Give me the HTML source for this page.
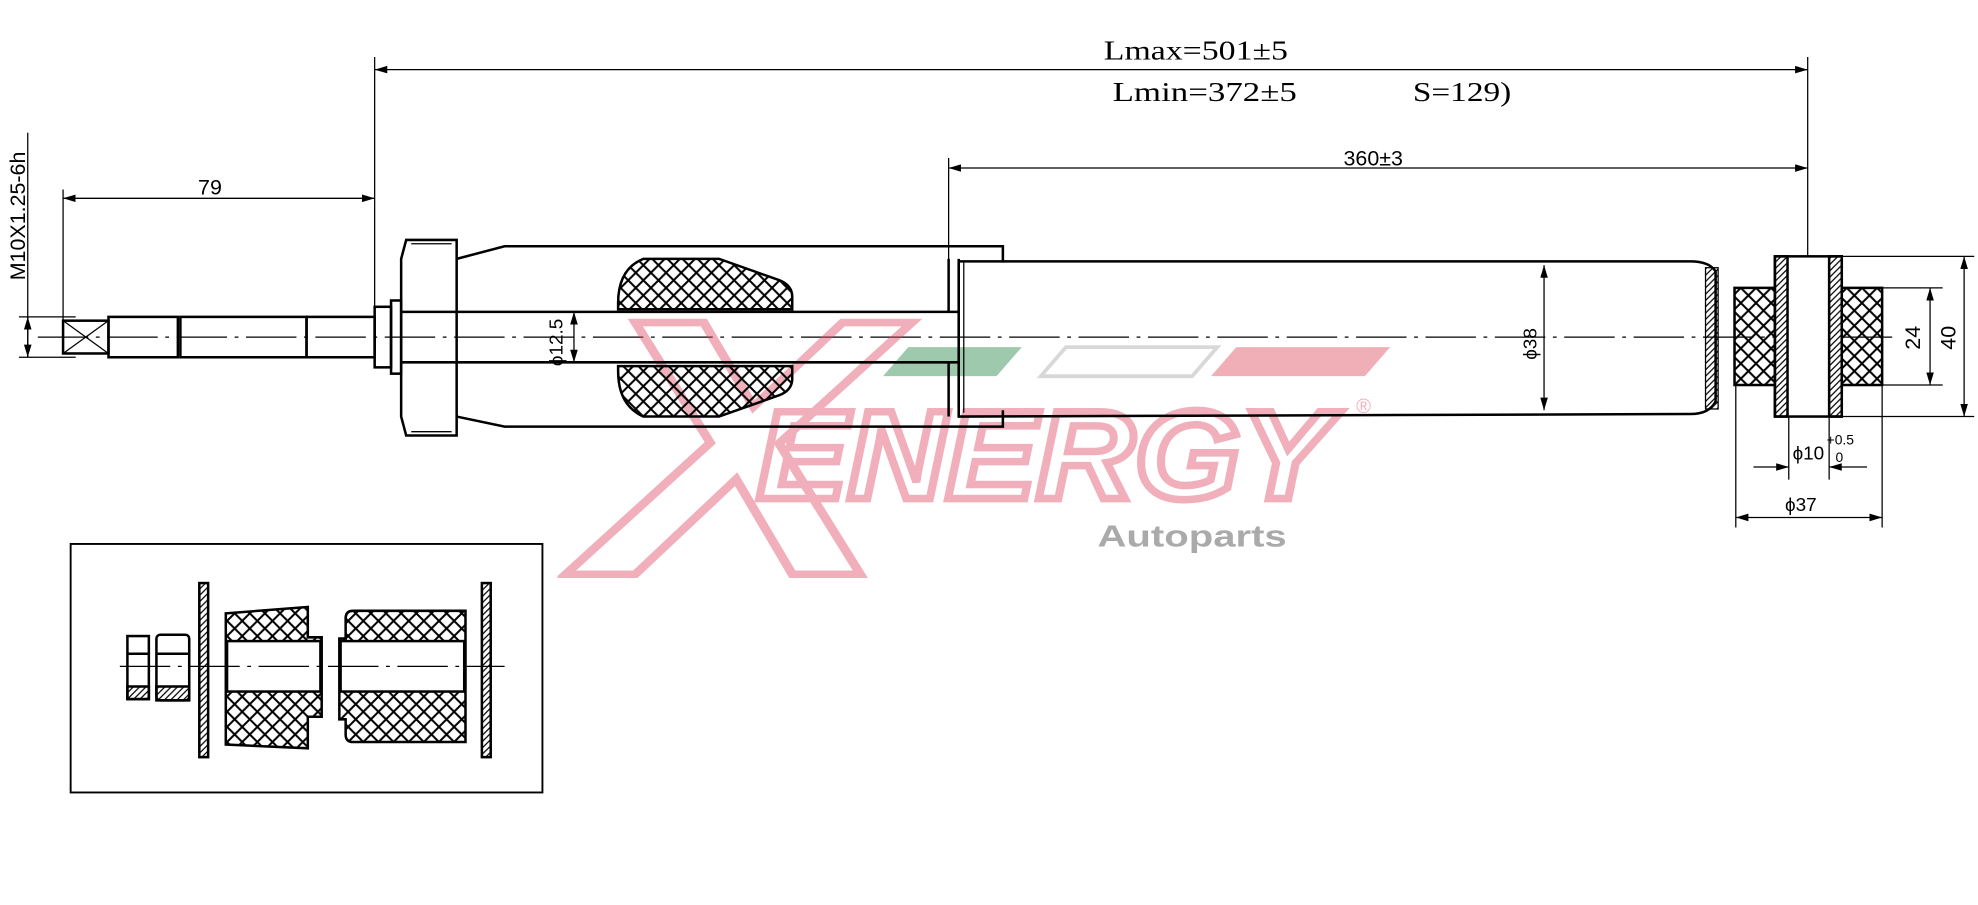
<!DOCTYPE html>
<html><head><meta charset="utf-8"><style>
html,body{margin:0;padding:0;background:#fff;}
svg{display:block;}
text{font-family:"Liberation Sans",sans-serif;}
text.s{font-family:"Liberation Serif",serif;}
</style></head><body>
<svg width="1978" height="905" viewBox="0 0 1568 717" xmlns="http://www.w3.org/2000/svg">
<defs>
<pattern id="xh" width="12" height="12" patternUnits="userSpaceOnUse">
<path d="M0 0L12 12M12 0L0 12" stroke="#000" stroke-width="1.6"/>
</pattern>
<pattern id="hh" width="5" height="5" patternUnits="userSpaceOnUse">
<path d="M0 5L5 0M-1 1L1 -1M4 6L6 4" stroke="#000" stroke-width="1"/>
</pattern>
<marker id="a" viewBox="0 0 10 6" refX="10" refY="3" markerWidth="10" markerHeight="6" orient="auto-start-reverse" markerUnits="userSpaceOnUse">
<path d="M0 0L10 3L0 6z" fill="#000"/>
</marker>
</defs>
<g fill="none" stroke="#000" stroke-width="1">
<line x1="297" y1="45" x2="297" y2="262"/>
<line x1="1433" y1="45" x2="1433" y2="205"/>
<line x1="297" y1="55" x2="1433" y2="55" marker-start="url(#a)" marker-end="url(#a)"/>
<line x1="752" y1="125" x2="752" y2="208"/>
<line x1="752" y1="133" x2="1433" y2="133" marker-start="url(#a)" marker-end="url(#a)"/>
<line x1="50" y1="150" x2="50" y2="256"/>
<line x1="50" y1="157" x2="297" y2="157" marker-start="url(#a)" marker-end="url(#a)"/>
<line x1="22" y1="105" x2="22" y2="283"/>
<line x1="15" y1="251" x2="60" y2="251"/>
<line x1="15" y1="283" x2="60" y2="283"/>
<line x1="22" y1="251" x2="22" y2="283" marker-start="url(#a)" marker-end="url(#a)"/>
<line x1="30" y1="267" x2="1500" y2="267" stroke-dasharray="40 6 3 6"/>
</g>
<g opacity="0.45">
<path d="M700 298L720 275L810 275L790 298Z" fill="#2a8a4a"/>
<path d="M825 298L845 275L965 275L945 298Z" fill="none" stroke="#aaa" stroke-width="3"/>
<path d="M960 298L980 275L1102 275L1082 298Z" fill="#e05060"/>
<text x="465" y="455" font-size="290" font-weight="bold" font-style="italic" style="fill:none;stroke:#e0506a;stroke-width:6" textLength="240" lengthAdjust="spacingAndGlyphs">X</text>
<text x="600" y="395" font-size="100" font-weight="bold" font-style="italic" style="fill:none;stroke:#e0506a;stroke-width:6" textLength="455" lengthAdjust="spacingAndGlyphs">ENERGY</text>
<text x="1075" y="327" font-size="16" style="fill:#e0506a">®</text>
</g>
<text x="870" y="433" font-size="24" font-weight="bold" style="fill:#aaa" textLength="150" lengthAdjust="spacingAndGlyphs">Autoparts</text>
<g fill="none" stroke="#000" stroke-width="2">
<rect x="50" y="254" width="36" height="26"/>
<path d="M50 254L86 280M86 254L50 280" stroke-width="1"/>
<rect x="86" y="251" width="55" height="32"/>
<rect x="143" y="251" width="100" height="32"/>
<rect x="243" y="251" width="54" height="32"/>
<rect x="297" y="243" width="13" height="48"/>
<rect x="310" y="238" width="8" height="58"/>
<path d="M322 190L362 190L362 345L322 345L318 330L318 205Z"/>
<path d="M326 193L358 193M326 342L358 342" stroke-width="1"/>
<path d="M362 205L400 195L795 195L795 208M362 330L400 338L795 338L795 325"/>
<path d="M318 247L760 247M318 287L760 287"/>
<path d="M490 240Q490 213 510 205L570 205L618 222Q628 226 628 235L628 245L490 245Z" fill="url(#xh)"/>
<path d="M490 294Q490 321 510 330L570 330L618 313Q628 309 628 300L628 290L490 290Z" fill="url(#xh)"/>
<path d="M752 205L752 247M752 287L752 330M760 208L760 330"/>
<path d="M760 205L760 330L1340 328Q1355 328 1360 318L1360 215Q1355 207 1340 207L760 207"/>
<path d="M764 208L764 327" stroke-width="1"/>
<rect x="1352" y="212" width="10" height="112" fill="url(#hh)" stroke-width="1"/>
<rect x="1375" y="228" width="117" height="77" fill="url(#xh)"/>
<rect x="1407" y="203" width="53" height="127" fill="#fff"/>
<rect x="1407" y="203" width="10" height="127" fill="url(#hh)"/>
<rect x="1450" y="203" width="10" height="127" fill="url(#hh)"/>
</g>
<g fill="none" stroke="#000" stroke-width="1">
<line x1="1224" y1="210" x2="1224" y2="325" marker-start="url(#a)" marker-end="url(#a)"/>
<line x1="455" y1="247" x2="455" y2="287" marker-start="url(#a)" marker-end="url(#a)"/>
<line x1="1460" y1="203" x2="1565" y2="203"/><line x1="1460" y1="330" x2="1565" y2="330"/>
<line x1="1557" y1="203" x2="1557" y2="330" marker-start="url(#a)" marker-end="url(#a)"/>
<line x1="1492" y1="228" x2="1540" y2="228"/><line x1="1492" y1="305" x2="1540" y2="305"/>
<line x1="1530" y1="228" x2="1530" y2="305" marker-start="url(#a)" marker-end="url(#a)"/>
<line x1="1418" y1="330" x2="1418" y2="380"/><line x1="1450" y1="330" x2="1450" y2="380"/>
<line x1="1390" y1="370" x2="1418" y2="370" marker-end="url(#a)"/><line x1="1480" y1="370" x2="1450" y2="370" marker-end="url(#a)"/>
<line x1="1376" y1="305" x2="1376" y2="418"/><line x1="1492" y1="305" x2="1492" y2="418"/>
<line x1="1376" y1="410" x2="1492" y2="410" marker-start="url(#a)" marker-end="url(#a)"/>
</g>
<text class="s" x="875" y="47" font-size="22" textLength="146" lengthAdjust="spacingAndGlyphs">Lmax=501±5</text>
<text class="s" x="882" y="80" font-size="22" textLength="146" lengthAdjust="spacingAndGlyphs">Lmin=372±5</text>
<text class="s" x="1120" y="80" font-size="22" textLength="78" lengthAdjust="spacingAndGlyphs">S=129)</text>
<text x="1065" y="131" font-size="17">360±3</text>
<text x="157" y="154" font-size="17">79</text>
<text transform="translate(20,222) rotate(-90)" font-size="17">M10X1.25-6h</text>
<text transform="translate(446,290) rotate(-90)" font-size="15">ϕ12.5</text>
<text transform="translate(1218,285) rotate(-90)" font-size="15">ϕ38</text>
<text transform="translate(1522,277) rotate(-90)" font-size="17">24</text>
<text transform="translate(1550,277) rotate(-90)" font-size="17">40</text>
<text x="1421" y="364" font-size="15">ϕ10</text>
<text x="1448" y="352" font-size="11">+0.5</text>
<text x="1455" y="366" font-size="11">0</text>
<text x="1415" y="405" font-size="15">ϕ37</text>
<rect x="56" y="431" width="374" height="197" fill="none" stroke="#000" stroke-width="1.5"/>
<g stroke="#000" stroke-width="2" fill="none">
<rect x="101" y="504" width="17" height="50"/>
<rect x="101" y="544" width="17" height="10" fill="url(#hh)"/>
<line x1="101" y1="518" x2="118" y2="518"/>
<rect x="124" y="503" width="26" height="52" rx="3"/>
<rect x="124" y="544" width="26" height="11" fill="url(#hh)"/>
<line x1="124" y1="518" x2="150" y2="518"/>
<rect x="158" y="462" width="7" height="138" fill="url(#hh)"/>
<rect x="382" y="462" width="7" height="138" fill="url(#hh)"/>
<path d="M179 486L244 481L244 505L255 505L255 568L244 568L244 593L179 590Z" fill="url(#xh)"/>
<rect x="180" y="508" width="74" height="40" fill="#fff"/>
<path d="M280 484L369 484L369 588L280 588Q274 588 274 582L274 570L269 570L269 506L274 506L274 490Q274 484 280 484Z" fill="url(#xh)"/>
<rect x="270" y="508" width="98" height="40" fill="#fff"/>
</g>
<line x1="95" y1="528" x2="400" y2="528" stroke="#000" stroke-width="1" stroke-dasharray="40 6 3 6"/>
</svg>
</body></html>
